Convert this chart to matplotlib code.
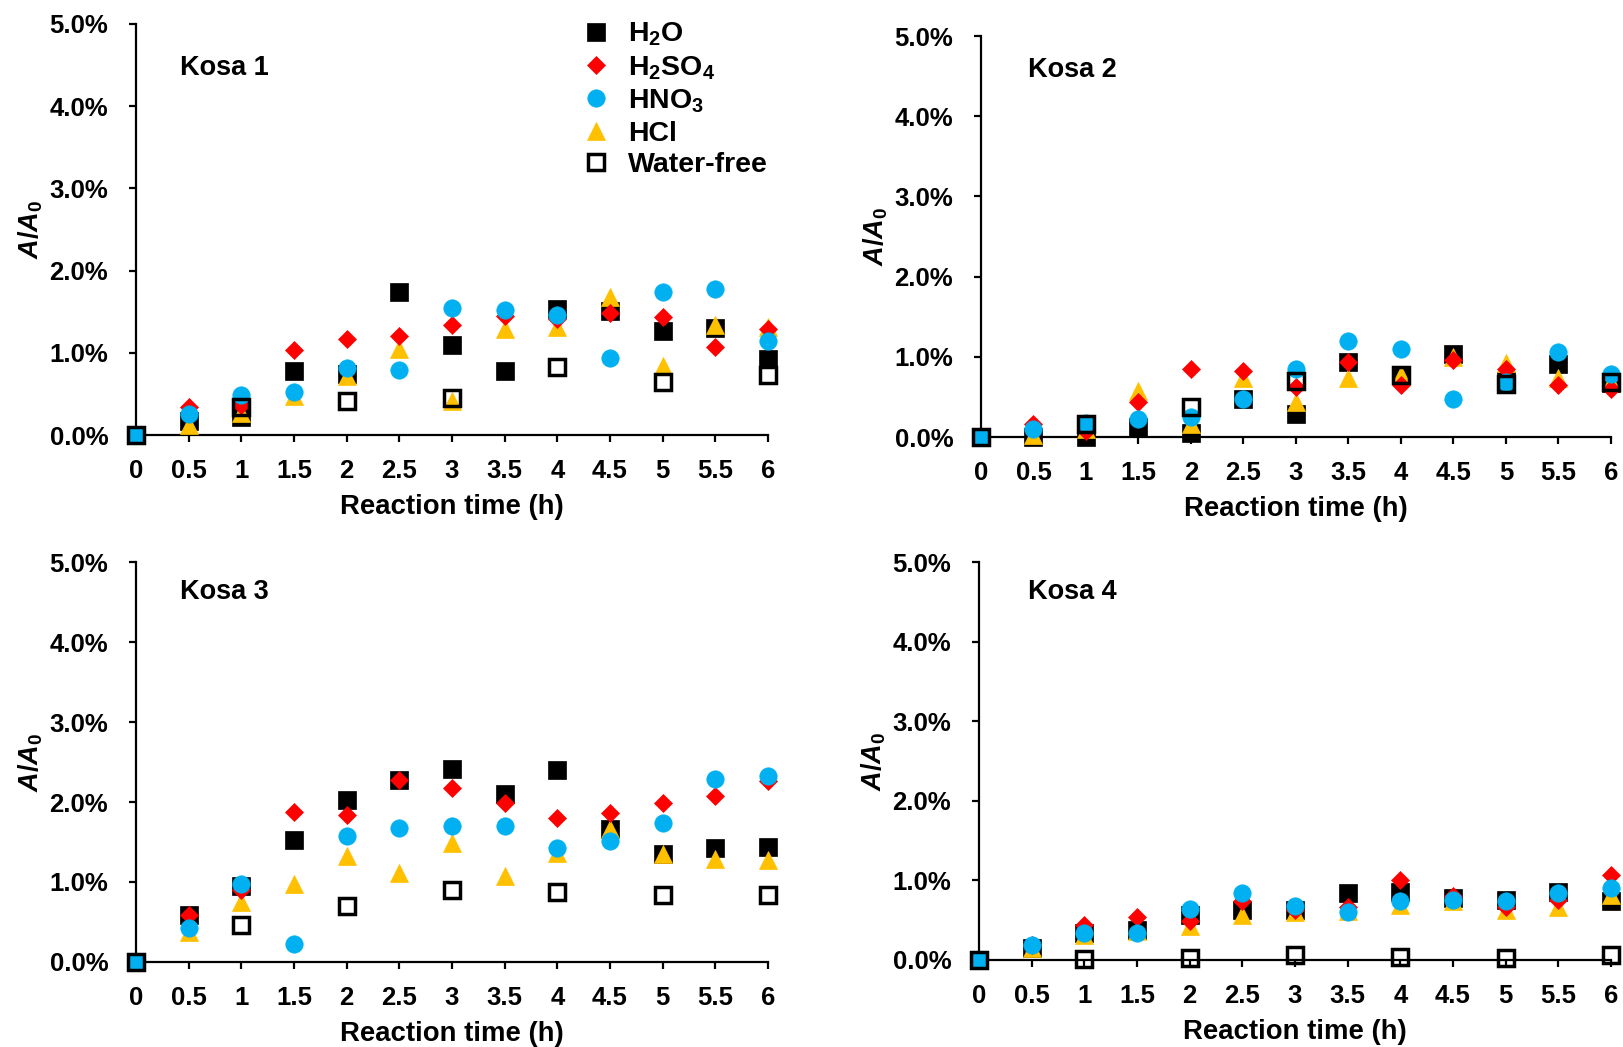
import numpy as np
import matplotlib
matplotlib.use("Agg")
import matplotlib.pyplot as plt
from matplotlib.lines import Line2D

plt.rcParams["font.family"] = ["Liberation Sans", "DejaVu Sans"]
plt.rcParams["font.weight"] = "bold"
plt.rcParams["mathtext.fontset"] = "custom"
plt.rcParams["mathtext.rm"] = "Liberation Sans:bold"
plt.rcParams["mathtext.bf"] = "Liberation Sans:bold"
plt.rcParams["mathtext.it"] = "Liberation Sans:italic:bold"

# reaction time (h); water-free samples only on the whole hours
TIME = [0, 0.5, 1, 1.5, 2, 2.5, 3, 3.5, 4, 4.5, 5, 5.5, 6]
TIME_DRY = [0, 1, 2, 3, 4, 5, 6]
TICKS_X = ["0", "0.5", "1", "1.5", "2", "2.5", "3", "3.5", "4", "4.5", "5", "5.5", "6"]
TICKS_Y = [0, 1, 2, 3, 4, 5]

# A/A0 in %
kosa1_h2o = [0, 0.17, 0.22, 0.78, 0.74, 1.74, 1.10, 0.78, 1.53, 1.51, 1.27, 1.30, 0.92]
kosa1_h2so4 = [0, 0.34, 0.36, 1.04, 1.17, 1.20, 1.34, 1.45, 1.41, 1.48, 1.43, 1.07, 1.29]
kosa1_hno3 = [0, 0.25, 0.49, 0.52, 0.82, 0.79, 1.55, 1.52, 1.46, 0.94, 1.74, 1.78, 1.14]
kosa1_hcl = [0, 0.12, 0.27, 0.48, 0.72, 1.05, 0.42, 1.29, 1.32, 1.68, 0.84, 1.34, 1.32]
kosa1_dry = [0, 0.34, 0.42, 0.45, 0.83, 0.65, 0.73]

kosa2_h2o = [0, 0.0, 0.0, 0.13, 0.05, 0.48, 0.29, 0.94, 0.77, 1.04, 0.70, 0.91, 0.67]
kosa2_h2so4 = [0, 0.16, 0.08, 0.44, 0.85, 0.82, 0.62, 0.94, 0.65, 0.96, 0.85, 0.65, 0.60]
kosa2_hno3 = [0, 0.10, 0.17, 0.23, 0.25, 0.48, 0.85, 1.20, 1.10, 0.48, 0.69, 1.06, 0.79]
kosa2_hcl = [0, 0.02, 0.10, 0.57, 0.16, 0.74, 0.44, 0.73, 0.77, 1.00, 0.92, 0.73, 0.69]
kosa2_dry = [0, 0.16, 0.37, 0.70, 0.77, 0.66, 0.69]

kosa3_h2o = [0, 0.59, 0.95, 1.53, 2.03, 2.27, 2.41, 2.10, 2.40, 1.66, 1.35, 1.43, 1.44]
kosa3_h2so4 = [0, 0.59, 0.90, 1.87, 1.84, 2.27, 2.18, 1.99, 1.80, 1.86, 1.99, 2.08, 2.26]
kosa3_hno3 = [0, 0.43, 0.97, 0.23, 1.58, 1.68, 1.70, 1.70, 1.43, 1.51, 1.74, 2.29, 2.33]
kosa3_hcl = [0, 0.38, 0.75, 0.98, 1.33, 1.11, 1.49, 1.07, 1.36, 1.66, 1.35, 1.29, 1.27]
kosa3_dry = [0, 0.46, 0.70, 0.90, 0.87, 0.84, 0.84]

kosa4_h2o = [0, 0.15, 0.34, 0.38, 0.57, 0.63, 0.63, 0.84, 0.86, 0.78, 0.76, 0.85, 0.74]
kosa4_h2so4 = [0, 0.19, 0.44, 0.54, 0.49, 0.74, 0.63, 0.67, 1.00, 0.80, 0.67, 0.76, 1.07]
kosa4_hno3 = [0, 0.19, 0.34, 0.34, 0.64, 0.84, 0.68, 0.60, 0.74, 0.76, 0.74, 0.84, 0.90]
kosa4_hcl = [0, 0.15, 0.32, 0.36, 0.43, 0.57, 0.60, 0.61, 0.69, 0.74, 0.63, 0.67, 0.82]
kosa4_dry = [0, 0.01, 0.02, 0.06, 0.04, 0.03, 0.06]

# name, [h2o, h2so4, hno3, hcl, dry], axes rect (fig fraction), label pos (h, %)
PANELS = [
    ("Kosa 1", [kosa1_h2o, kosa1_h2so4, kosa1_hno3, kosa1_hcl, kosa1_dry],
     [0.0838, 0.5845, 0.3894, 0.3926], (0.42, 4.47)),
    ("Kosa 2", [kosa2_h2o, kosa2_h2so4, kosa2_hno3, kosa2_hcl, kosa2_dry],
     [0.6044, 0.5826, 0.3882, 0.3830], (0.45, 4.58)),
    ("Kosa 3", [kosa3_h2o, kosa3_h2so4, kosa3_hno3, kosa3_hcl, kosa3_dry],
     [0.0838, 0.0812, 0.3894, 0.3820], (0.42, 4.62)),
    ("Kosa 4", [kosa4_h2o, kosa4_h2so4, kosa4_hno3, kosa4_hcl, kosa4_dry],
     [0.6032, 0.0831, 0.3894, 0.3800], (0.465, 4.62)),
]

# label, marker, size (pt), face, edge, zorder
STYLES = [
    (r"H$_{\mathrm{2}}$O", "s", 12.5, "black", "black", 3),
    (r"H$_{\mathrm{2}}$SO$_{\mathrm{4}}$", "D", 9.3, "#FF0000", "#FF0000", 5),
    (r"HNO$_{\mathrm{3}}$", "o", 12.5, "#00B0F0", "#00B0F0", 6),
    ("HCl", "^", 13.0, "#FFC000", "#FFC000", 4),
    ("Water-free", "s", 11.5, "none", "black", 7),
]

FS = 18.5
DRY_EW = 2.5


def draw(ax, name, series, label_pos):
    for i, (vals, st) in enumerate(zip(series, STYLES)):
        lab, mk, ms, fc, ec, z = st
        t = TIME_DRY if i == 4 else TIME
        ax.plot(t, vals, ls="none", marker=mk, ms=ms, mfc=fc, mec=ec,
                mew=DRY_EW if i == 4 else 0.5, zorder=z, clip_on=False)
    ax.set_xlim(0, 6)
    ax.set_ylim(0, 5)
    ax.set_xticks(TIME)
    ax.set_xticklabels(TICKS_X)
    ax.set_yticks(TICKS_Y)
    ax.set_yticklabels([f"{v:.1f}%" for v in TICKS_Y])
    for s in ("top", "right"):
        ax.spines[s].set_visible(False)
    for s in ("left", "bottom"):
        ax.spines[s].set_linewidth(1.6)
    ax.tick_params(axis="x", length=5, width=1.6, pad=12, labelsize=FS)
    ax.tick_params(axis="y", length=5, width=1.6, pad=15, labelsize=FS)
    ax.text(label_pos[0], label_pos[1], name, fontsize=19.5,
            fontweight="bold", va="center", ha="left")
    ax.annotate("Reaction time (h)", xy=(0.5, 0), xycoords="axes fraction",
                xytext=(0, -52), textcoords="offset points",
                ha="center", va="center", fontsize=19.8, fontweight="bold")
    ax.annotate(r"$A/A_{\mathrm{0}}$", xy=(0, 0.5), xycoords="axes fraction",
                xytext=(-76, 0), textcoords="offset points", rotation=90,
                ha="center", va="center", fontsize=FS + 1)


def main():
    fig = plt.figure(figsize=(16.23, 10.47), dpi=100)
    axes = []
    for name, series, rect, lp in PANELS:
        ax = fig.add_axes(rect)
        draw(ax, name, series, lp)
        axes.append(ax)

    handles = [Line2D([], [], ls="none", marker=mk, ms=ms, mfc=fc, mec=ec,
                      mew=DRY_EW if lab == "Water-free" else 0.5)
               for lab, mk, ms, fc, ec, z in STYLES]
    labels = [st[0] for st in STYLES]
    axes[0].legend(handles, labels, loc="upper left",
                   bbox_to_anchor=(582 / 1623, 1 - 21 / 1047),
                   bbox_transform=fig.transFigure, frameon=False,
                   fontsize=20.5, handlelength=1.0, handletextpad=0.62,
                   labelspacing=0.2, borderpad=0, borderaxespad=0)

    fig.savefig("out.png", dpi=100)


if __name__ == "__main__":
    main()
